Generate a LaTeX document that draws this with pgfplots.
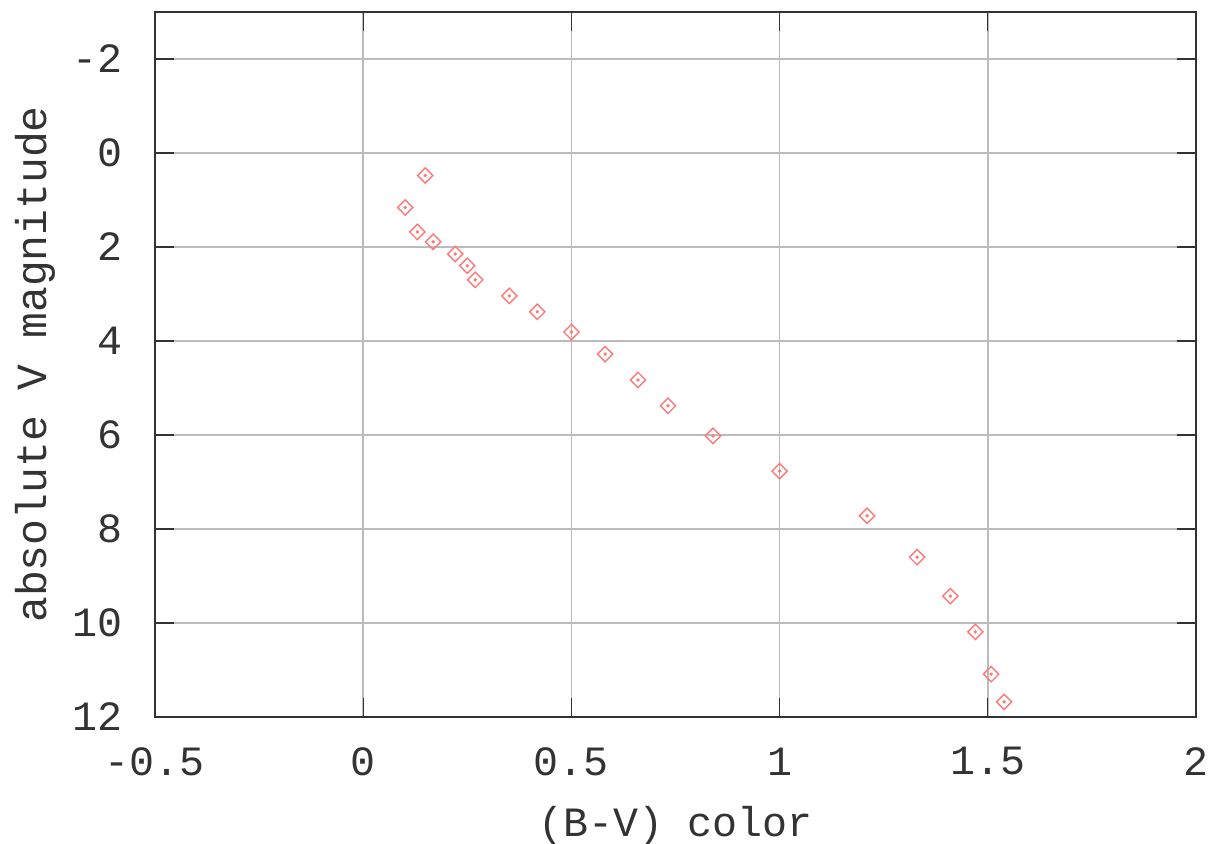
\documentclass[border=0pt]{standalone}
\usepackage{fontspec}
\setmainfont{Liberation Mono}
\usepackage{pgfplots}
\usepackage{pgfplotstable}
\pgfplotsset{compat=1.18}
\definecolor{ptred}{HTML}{FF7878}
\definecolor{axgray}{HTML}{333333}
\definecolor{grgray}{HTML}{BBBBBB}
\pgfplotstableread{
x y
0.101 1.16
0.149 0.48
0.130 1.68
0.168 1.89
0.221 2.15
0.250 2.40
0.269 2.70
0.351 3.04
0.418 3.38
0.500 3.81
0.581 4.28
0.660 4.83
0.732 5.38
0.840 6.02
1.000 6.77
1.210 7.72
1.330 8.60
1.410 9.43
1.470 10.19
1.508 11.09
1.539 11.68
}\datatable
\begin{document}
\begin{tikzpicture}
\useasboundingbox (-55.8pt,-45.7pt) rectangle (380.9pt,258.1pt);
\begin{axis}[
  at={(0,0)}, anchor=south west,
  scale only axis,
  width=374.8pt, height=253.8pt,
  xmin=-0.5, xmax=2, ymin=-3, ymax=12,
  y dir=reverse,
  xtick={-0.5,0,0.5,1,1.5,2},
  xticklabels={-0.5,0,0.5,1,1.5,2},
  ytick={-2,0,2,4,6,8,10,12},
  yticklabels={-2,0,2,4,6,8,10,12},
  tick align=inside,
  major tick length=6.8pt,
  tick style={axgray, line width=0.45pt},
  axis line style={axgray, line width=0.7pt},
  grid=major,
  major grid style={grgray, line width=0.55pt},
  xticklabel style={anchor=center, yshift=-16pt, inner sep=0pt, font=\fontsize{15}{17}\selectfont, text=axgray},
  yticklabel style={anchor=east, xshift=-11.5pt, inner sep=0pt, font=\fontsize{15}{17}\selectfont, text=axgray},
  xlabel={(B-V) color},
  ylabel={absolute V magnitude},
  xlabel style={at={(axis description cs:0.5,0)}, anchor=center, yshift=-39pt, inner sep=0pt, font=\fontsize{15}{17}\selectfont, text=axgray},
  ylabel style={at={(axis description cs:0,0.5)}, anchor=center, yshift=43pt, inner sep=0pt, font=\fontsize{15.5}{17}\selectfont, text=axgray},
]
\addplot[only marks, mark=square, mark size=1.95pt, mark options={draw=ptred, rotate=45, line width=0.5pt}] table[x=x,y=y] {\datatable};
\addplot[only marks, mark=*, mark size=0.4pt, mark options={draw=ptred, fill=ptred}] table[x=x,y=y] {\datatable};
\end{axis}
\end{tikzpicture}
\end{document}
